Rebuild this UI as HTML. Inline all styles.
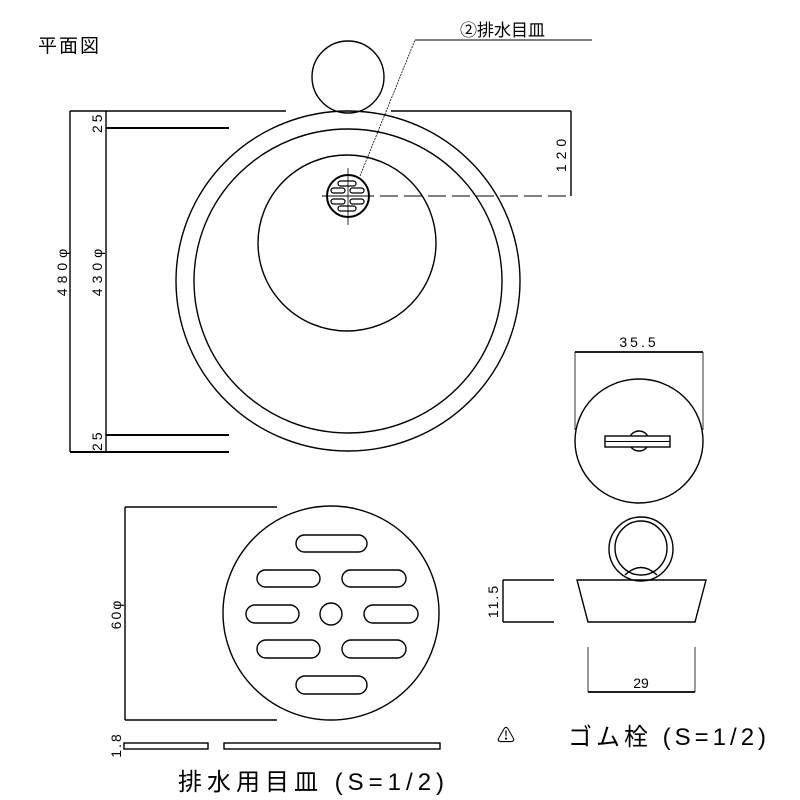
<!DOCTYPE html>
<html><head><meta charset="utf-8"><style>
html,body{margin:0;padding:0;background:#fff;}
svg{display:block;}
text{font-family:"Liberation Sans","Noto Sans CJK JP",sans-serif;fill:#000;}
</style></head><body>
<svg width="800" height="800" viewBox="0 0 800 800" xmlns="http://www.w3.org/2000/svg">
<g fill="none" stroke="#000" stroke-width="1.4">
<circle cx="348" cy="77" r="36"/>
<ellipse cx="348" cy="281" rx="172" ry="170"/>
<ellipse cx="348" cy="281" rx="154" ry="152"/>
<ellipse cx="347" cy="243" rx="89" ry="88"/>
<circle cx="348" cy="196" r="21" stroke-width="2"/>
<g stroke-width="1.2">
<rect x="338" y="181" width="18" height="5" rx="2.5"/>
<rect x="331" y="188" width="14" height="5" rx="2.5"/>
<rect x="350" y="188" width="14" height="5" rx="2.5"/>
<rect x="331" y="199" width="14" height="5" rx="2.5"/>
<rect x="350" y="199" width="14" height="5" rx="2.5"/>
<rect x="338" y="206" width="18" height="5" rx="2.5"/>
</g>
<line x1="322" y1="196" x2="374" y2="196" stroke-width="1"/>
<line x1="348" y1="168" x2="348" y2="225" stroke-width="0.8"/>
<line x1="380" y1="196" x2="571" y2="196" stroke-dasharray="18,6" stroke-width="1"/>
<line x1="360" y1="176" x2="415" y2="40" stroke-width="0.8" stroke-dasharray="2,1"/>
<line x1="415" y1="40" x2="592" y2="40" stroke-width="1"/>
<line x1="70" y1="111" x2="286" y2="111"/>
<line x1="391" y1="111" x2="571" y2="111"/>
<line x1="571" y1="111" x2="571" y2="196"/>
<line x1="70" y1="111" x2="70" y2="452"/>
<line x1="106" y1="111" x2="106" y2="452"/>
<line x1="106" y1="128" x2="229" y2="128" stroke-width="2"/>
<line x1="106" y1="435" x2="229" y2="435" stroke-width="2"/>
<line x1="70" y1="452" x2="229" y2="452" stroke-width="2"/>
<line x1="575" y1="352" x2="703" y2="352" stroke-width="1.8"/>
<line x1="575" y1="352" x2="575" y2="430" stroke-width="0.8"/>
<line x1="703" y1="352" x2="703" y2="430" stroke-width="0.8"/>
<ellipse cx="639" cy="441" rx="64" ry="62"/>
<circle cx="639" cy="441" r="10" fill="#fff"/>
<rect x="605" y="436" width="65" height="11" fill="#fff"/>
<line x1="605" y1="441.5" x2="670" y2="441.5" stroke-width="1"/>
<ellipse cx="641" cy="549" rx="32" ry="32"/>
<ellipse cx="641" cy="548" rx="26" ry="27"/>
<path d="M625 575 Q641 560 657 575" />
<path d="M577 580 L706 580 L695 622 L588 622 Z"/>
<line x1="503" y1="580" x2="503" y2="622"/>
<line x1="503" y1="580" x2="554" y2="580"/>
<line x1="503" y1="622" x2="554" y2="622"/>
<line x1="588" y1="647" x2="588" y2="692" stroke-width="0.8"/>
<line x1="695" y1="647" x2="695" y2="692" stroke-width="0.8"/>
<line x1="588" y1="692" x2="695" y2="692" stroke-width="1.8"/>
<ellipse cx="331" cy="613" rx="108" ry="107"/>
<rect x="296" y="535" width="71" height="17" rx="8.5"/>
<rect x="257" y="570" width="63" height="17" rx="8.5"/>
<rect x="342" y="570" width="64" height="17" rx="8.5"/>
<rect x="246" y="605" width="53" height="18" rx="9"/>
<ellipse cx="331" cy="614" rx="11" ry="11"/>
<rect x="364" y="605" width="54" height="18" rx="9"/>
<rect x="257" y="640" width="63" height="18" rx="9"/>
<rect x="342" y="640" width="64" height="18" rx="9"/>
<rect x="296" y="676" width="71" height="18" rx="9"/>
<line x1="125" y1="507" x2="125" y2="720"/>
<line x1="125" y1="507" x2="277" y2="507"/>
<line x1="125" y1="720" x2="277" y2="720"/>
<rect x="124" y="743" width="84" height="6"/>
<rect x="224" y="743" width="216" height="6"/>
</g>
<text x="38" y="52" font-size="19" letter-spacing="2">平面図</text>
<text x="460" y="36" font-size="17">②排水目皿</text>
<g font-size="14">
<text transform="translate(566,153) rotate(-90)" text-anchor="middle" letter-spacing="5">120</text>
<text transform="translate(67,270) rotate(-90)" text-anchor="middle" letter-spacing="5">480φ</text>
<text transform="translate(102,270) rotate(-90)" text-anchor="middle" letter-spacing="5">430φ</text>
<text transform="translate(102,133) rotate(-90)" letter-spacing="3">25</text>
<text transform="translate(102,451) rotate(-90)" letter-spacing="3">25</text>
<text transform="translate(121,614) rotate(-90)" text-anchor="middle" letter-spacing="2">60φ</text>
<text transform="translate(498,601) rotate(-90)" text-anchor="middle" letter-spacing="2">11.5</text>
<text transform="translate(121,745) rotate(-90)" text-anchor="middle" letter-spacing="2">1.8</text>
<text x="639" y="347" text-anchor="middle" letter-spacing="3">35.5</text>
<text x="641" y="688" text-anchor="middle">29</text>
</g>
<text x="506" y="742" font-size="18" text-anchor="middle">⚠</text>
<text x="568" y="745" font-size="24" letter-spacing="4">ゴム栓 (S=1/2)</text>
<text x="178" y="790" font-size="24" letter-spacing="5">排水用目皿 (S=1/2)</text>
</svg>
</body></html>
